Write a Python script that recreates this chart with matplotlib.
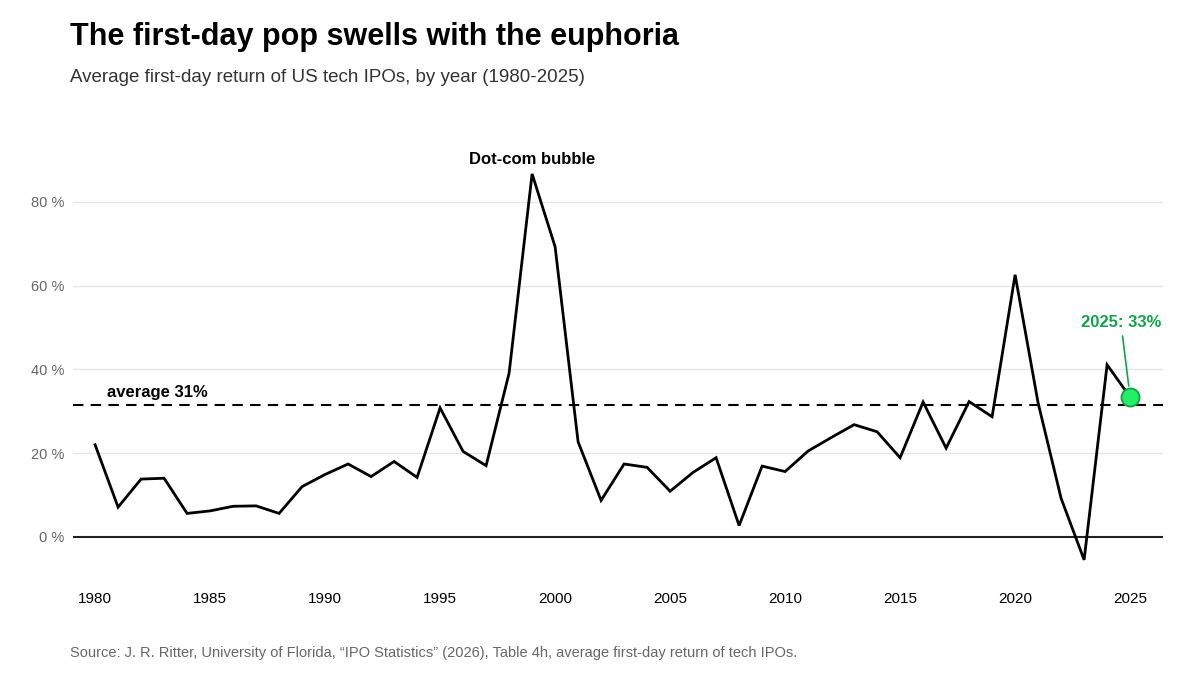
import matplotlib
matplotlib.use("Agg")
import matplotlib.pyplot as plt

plt.rcParams['font.family'] = ['Liberation Sans', 'DejaVu Sans']

years = list(range(1980, 2026))
returns = [22.0, 7.1, 13.8, 14.0, 5.6, 6.2, 7.3, 7.4, 5.6, 12.0,
           14.9, 17.4, 14.4, 18.0, 14.2, 30.8, 20.4, 17.0, 39.1, 86.7,
           69.3, 22.7, 8.7, 17.4, 16.6, 10.9, 15.4, 18.9, 2.7, 16.9,
           15.6, 20.5, 23.7, 26.8, 25.1, 18.9, 32.2, 21.2, 32.3, 28.7,
           62.6, 32.0, 9.2, -5.5, 41.1, 33.4]
average = 31.4
yticks = [0, 20, 40, 60, 80]
xticks = [1980, 1985, 1990, 1995, 2000, 2005, 2010, 2015, 2020, 2025]

fig = plt.figure(figsize=(12, 6.75), dpi=100)
ax = fig.add_axes([73/1200, 1-585/675, (1163-73)/1200, (585-150)/675])

ax.set_xlim(1979.04, 2026.43)
ax.set_ylim(-11.5, 92.4)

for t in yticks:
    if t == 0:
        ax.axhline(0, color='#222222', lw=1.5, zorder=2)
    else:
        ax.axhline(t, color='#e6e6e6', lw=1, zorder=1)

ax.axhline(average, color='black', lw=1.5, ls=(0, (5, 3.5)), zorder=2)
ax.plot(years, returns, color='black', lw=2, zorder=3, solid_joinstyle='miter')

ax.scatter([years[-1]], [returns[-1]], s=170, color='#22ee66', edgecolor='#11a044',
           linewidth=1.3, zorder=5)

ax.set_yticks(yticks)
ax.set_yticklabels([f"{t} %" for t in yticks], color='#666666', fontsize=10.5)
ax.set_xticks(xticks)
ax.set_xticklabels([str(x) for x in xticks], color='black', fontsize=11)
ax.tick_params(axis='y', length=0, pad=6)
ax.tick_params(axis='x', length=0, pad=5)
for s in ax.spines.values():
    s.set_visible(False)

ax.text(1999, 88.4, "Dot-com bubble", ha='center', va='bottom', fontsize=12,
        fontweight='bold', color='black')
ax.text(1980.5, average + 1.4, f"average {round(average)}%", ha='left', va='bottom',
        fontsize=12, fontweight='bold', color='black')
ax.annotate(f"2025: {round(returns[-1])}%", xy=(years[-1], returns[-1]),
            xytext=(2024.6, 49.3), ha='center', va='bottom', fontsize=12,
            fontweight='bold', color='#12a24a',
            arrowprops=dict(arrowstyle='-', color='#12a24a', lw=1.2,
                            shrinkA=2, shrinkB=8))

fig.text(70/1200, 1-37/675, "The first-day pop swells with the euphoria",
         fontsize=22, fontweight='bold', color='black', va='center', ha='left')
fig.text(70/1200, 1-77/675, "Average first-day return of US tech IPOs, by year (1980-2025)",
         fontsize=13.5, color='#333333', va='center', ha='left')
fig.text(70/1200, 1-653/675,
         "Source: J. R. Ritter, University of Florida, \u201cIPO Statistics\u201d (2026), Table 4h, average first-day return of tech IPOs.",
         fontsize=10.5, color='#666666', va='center', ha='left')

fig.savefig("out.png", dpi=100, facecolor='white')
